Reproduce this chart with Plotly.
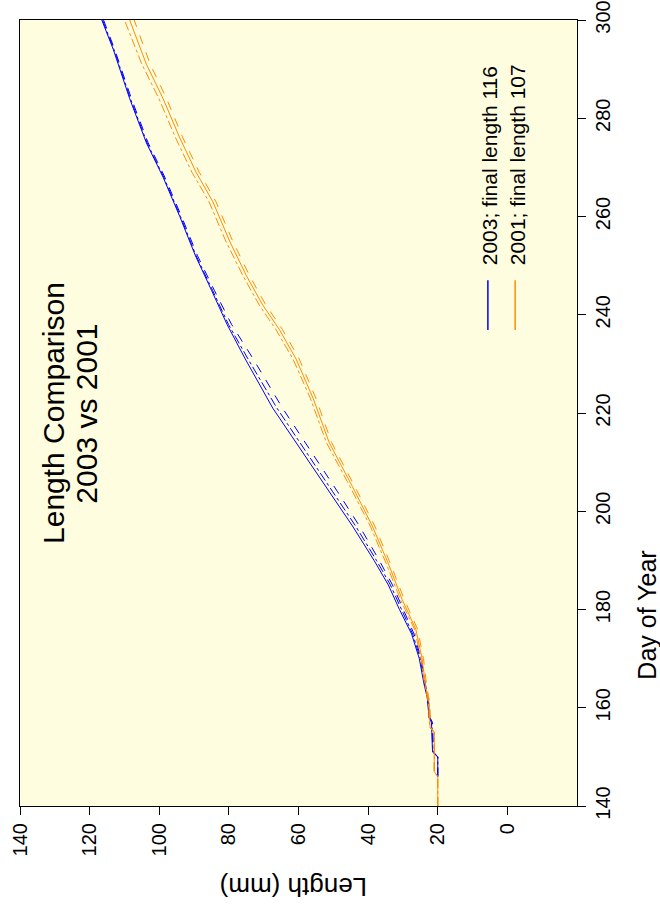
import plotly.graph_objects as go

# Day of year sampled along each season
days_2003 = [146, 150, 151, 157, 158, 162, 165, 170, 175, 180, 185, 190, 197, 204,
             212, 221, 231, 238, 245, 252, 260, 268, 275, 284, 294, 300]
days_2001 = [140, 146, 147, 155, 156, 161, 164, 170, 176, 182, 189, 197, 205, 214,
             223, 231, 237, 242, 248, 255, 263, 269, 276, 284, 291, 300]

# Lengths (mm), three traces per year
len_2003_a = [20, 20, 21.5, 21.8, 22.5, 23, 24, 25.3, 27.5, 31, 34.2, 38.3, 44.5, 51.2,
              58.8, 67.4, 75.3, 80.5, 85.0, 89.6, 94.1, 98.9, 103.7, 108.5, 113.2, 116.5]
len_2003_b = [20, 20, 21.2, 21.5, 22.2, 22.8, 23.6, 24.8, 26.8, 30.0, 33.0, 36.8, 42.5, 48.8,
              56.2, 64.6, 73.0, 79.2, 84.2, 89.0, 93.6, 98.4, 103.2, 108.0, 112.8, 116.0]
len_2003_c = [20, 20, 21.4, 21.7, 22.4, 22.9, 23.8, 25.0, 27.2, 30.5, 33.6, 37.6, 43.6, 50.2,
              57.8, 66.2, 74.5, 80.1, 84.7, 89.4, 93.9, 98.7, 103.5, 108.3, 113.0, 116.3]

len_2001_a = [20, 20, 21, 21, 22.2, 22.5, 23.4, 24.5, 26.3, 30.2, 34, 38.8, 44.5, 51.2,
              55.8, 60.7, 65.5, 70.3, 75, 79.8, 84.6, 89.4, 94.1, 98.9, 103.7, 108.5]
len_2001_b = [20, 20, 21, 21, 22.0, 22.3, 23.1, 24.1, 25.8, 29.6, 33.4, 38.1, 43.8, 50.5,
              55.0, 59.8, 64.6, 69.4, 74.1, 78.9, 83.7, 88.5, 93.2, 97.9, 102.6, 107.2]
len_2001_c = [20, 20, 21, 21, 22.3, 22.7, 23.6, 24.8, 26.7, 30.7, 34.6, 39.4, 45.2, 52.0,
              56.6, 61.6, 66.5, 71.3, 76.0, 80.9, 85.7, 90.6, 95.3, 100.1, 105.0, 110.0]

length_ticks = [0, 20, 40, 60, 80, 100, 120, 140]
day_ticks = [140, 160, 180, 200, 220, 240, 260, 280, 300]

legend_labels = ["2003; final length 116", "2001; final length 107"]
title_lines = ["Length Comparison", "2003 vs 2001"]

BLUE = "#0000FF"
ORANGE = "#FF8C00"
FONT = "Liberation Sans, Arial, sans-serif"

fig = go.Figure()

series = [
    (days_2003, len_2003_a, BLUE, "solid"),
    (days_2003, len_2003_b, BLUE, "dash"),
    (days_2003, len_2003_c, BLUE, "dashdot"),
    (days_2001, len_2001_a, ORANGE, "solid"),
    (days_2001, len_2001_b, ORANGE, "dash"),
    (days_2001, len_2001_c, ORANGE, "dashdot"),
]
# Length runs along the horizontal axis, day of year along the vertical one
for d, l, c, dash in series:
    fig.add_trace(go.Scatter(x=l, y=d, mode="lines",
                             line=dict(color=c, width=1, dash=dash),
                             showlegend=False, hoverinfo="skip"))

# Legend keys
for xp, c in [(0.840, BLUE), (0.889, ORANGE)]:
    fig.add_shape(type="line", xref="paper", yref="paper",
                  x0=xp, x1=xp, y0=0.6056, y1=0.669,
                  line=dict(color=c, width=1.5))

annotations = [
    dict(text=legend_labels[0], x=0.842, y=0.686, xanchor="center", yanchor="bottom",
         textangle=-90, font=dict(size=21)),
    dict(text=legend_labels[1], x=0.892, y=0.686, xanchor="center", yanchor="bottom",
         textangle=-90, font=dict(size=21)),
    dict(text=title_lines[0], x=0.0592, y=0.5, xanchor="center", yanchor="middle",
         textangle=-90, font=dict(size=30)),
    dict(text=title_lines[1], x=0.120, y=0.499, xanchor="center", yanchor="middle",
         textangle=-90, font=dict(size=30)),
    dict(text="Day of Year", x=1.125, y=0.243, xanchor="center", yanchor="middle",
         textangle=-90, font=dict(size=25)),
    dict(text="Length (mm)", x=0.492, y=-0.104, xanchor="center", yanchor="middle",
         textangle=180, font=dict(size=26)),
]
for a in annotations:
    a.update(xref="paper", yref="paper", showarrow=False)
    a["font"].update(family=FONT, color="black")
    fig.add_annotation(**a)

fig.update_layout(
    width=660, height=919,
    margin=dict(l=20, r=83, t=20, b=113, autoexpand=False),
    paper_bgcolor="white",
    plot_bgcolor="#FFFDE0",
    font=dict(family=FONT, color="black", size=20),
)
fig.update_xaxes(range=[140, -20], tickmode="array", tickvals=length_ticks,
                 ticktext=[str(v) for v in length_ticks], automargin=False,
                 ticks="outside", ticklen=8, tickcolor="black", tickangle=-90,
                 tickfont=dict(size=20), showgrid=False, zeroline=False,
                 showline=True, linecolor="black", linewidth=1, mirror=True)
fig.update_yaxes(range=[140, 300], side="right", tickmode="array", tickvals=day_ticks,
                 ticktext=[str(v) for v in day_ticks], automargin=False,
                 ticks="outside", ticklen=8, tickcolor="black", tickangle=-90,
                 tickfont=dict(size=20), showgrid=False, zeroline=False,
                 showline=True, linecolor="black", linewidth=1, mirror=True)

fig.write_html("out.html")
